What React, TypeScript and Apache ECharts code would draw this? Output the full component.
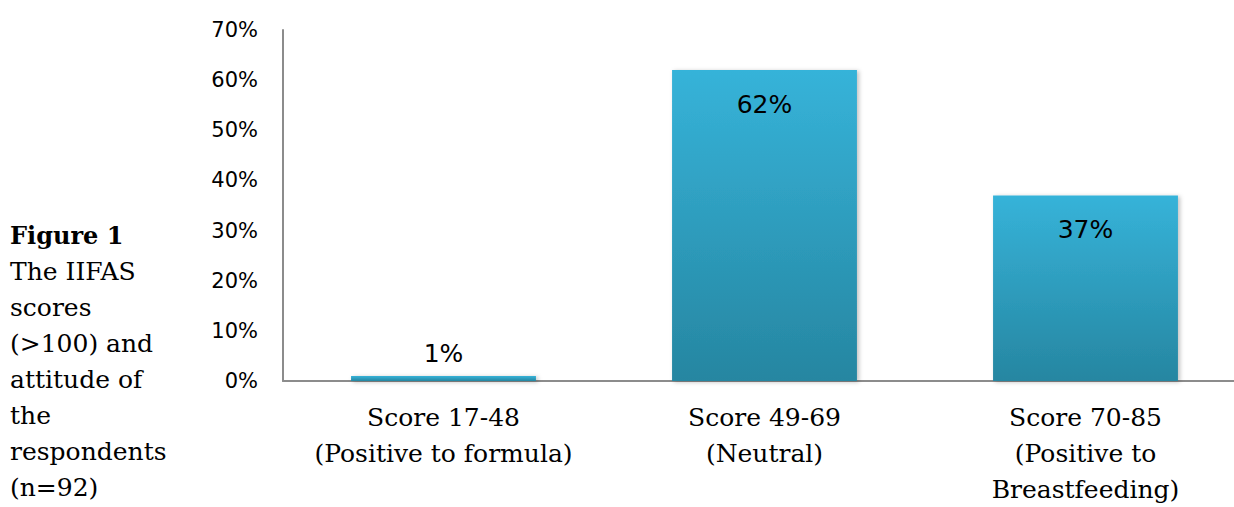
import React, { useEffect, useRef } from "react";
import * as echarts from "echarts";

const categories = [
  "Score 17-48\n(Positive to formula)",
  "Score 49-69\n(Neutral)",
  "Score 70-85\n(Positive to\nBreastfeeding)",
];
const values = [1, 62, 37];
const yTicks = { min: 0, max: 70, interval: 10 };
const captionTitle = "Figure 1";
const captionLines = ["The IIFAS", "scores", "(>100) and", "attitude of", "the", "respondents", "(n=92)"];

export default function App() {
  const ref = useRef<HTMLDivElement>(null);
  useEffect(() => {
    if (!ref.current) return;
    const chart = echarts.init(ref.current, null, { renderer: "svg" });
    const grad = new echarts.graphic.LinearGradient(0, 0, 0, 1, [
      { offset: 0, color: "#36B3D9" },
      { offset: 1, color: "#2686A1" },
    ]);
    chart.setOption({
      animation: false,
      backgroundColor: "#ffffff",
      grid: { left: 283, top: 30, right: 0, bottom: 125, containLabel: false },
      xAxis: {
        type: "category",
        data: categories,
        axisLine: { show: true, lineStyle: { color: "#8c8c8c", width: 2 } },
        axisTick: { show: false },
        axisLabel: {
          interval: 0,
          margin: 18,
          fontFamily: "DejaVu Serif",
          fontSize: 25,
          lineHeight: 36,
          color: "#000",
        },
      },
      yAxis: {
        type: "value",
        min: yTicks.min,
        max: yTicks.max,
        interval: yTicks.interval,
        splitLine: { show: false },
        axisLine: { show: true, lineStyle: { color: "#8c8c8c", width: 2 } },
        axisTick: { show: false },
        axisLabel: {
          formatter: "{value}%",
          margin: 25,
          fontFamily: "DejaVu Sans",
          fontSize: 21,
          color: "#000",
        },
      },
      series: [
        {
          type: "bar",
          barWidth: "57.6%",
          data: values.map((v, i) => ({
            value: v,
            label:
              i === 0
                ? { position: "top", distance: 10 }
                : { position: "insideTop", distance: 22 },
          })),
          itemStyle: {
            color: grad,
            shadowColor: "rgba(0,0,0,0.25)",
            shadowBlur: 4,
            shadowOffsetX: 2,
            shadowOffsetY: 1,
          },
          label: {
            show: true,
            formatter: "{c}%",
            fontFamily: "DejaVu Sans",
            fontSize: 25,
            color: "#000",
          },
        },
      ],
      graphic: [
        {
          type: "text",
          left: 10,
          top: 217,
          style: {
            text: "{b|" + captionTitle + "}\n" + captionLines.join("\n"),
            fontFamily: "DejaVu Serif",
            fontSize: 25,
            lineHeight: 36,
            fill: "#000",
            rich: {
              b: { fontFamily: "DejaVu Serif", fontWeight: "bold", fontSize: 24, lineHeight: 36, fill: "#000" },
            },
          },
        },
      ],
    });
    return () => chart.dispose();
  }, []);
  return (
    <div style={{ position: "absolute", left: 0, top: 0, width: 1234, height: 507, overflow: "hidden" }}>
      <div ref={ref} style={{ position: "absolute", left: 0, top: 0, width: 1246, height: 507 }} />
    </div>
  );
}
